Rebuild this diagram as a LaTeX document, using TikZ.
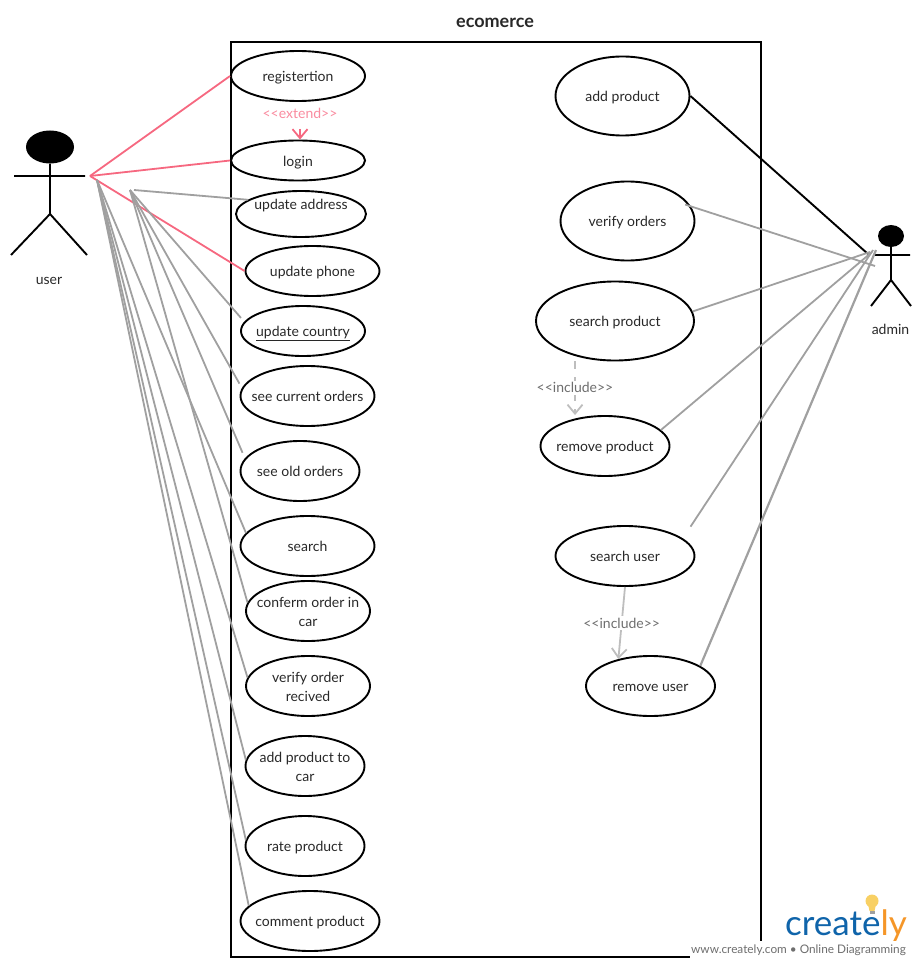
\documentclass[tikz,border=0pt]{standalone}
\usepackage{fontspec}
\setmainfont{Lato}
\usetikzlibrary{arrows.meta,shapes.geometric}
\definecolor{rose}{RGB}{246,104,128}
\definecolor{blush}{RGB}{250,140,160}
\definecolor{ash}{RGB}{160,160,160}
\definecolor{mist}{RGB}{190,190,190}
\definecolor{ink}{RGB}{40,40,40}
\definecolor{slate}{RGB}{110,110,110}
\definecolor{logoblue}{RGB}{15,100,170}
\definecolor{logoorange}{RGB}{245,150,40}
\definecolor{bulb}{RGB}{248,208,100}
\newcommand{\casetext}[1]{\makebox[0pt]{\raisebox{-5.5pt}[0pt][0pt]{\begin{tabular}{@{}c@{}}#1\end{tabular}}}}
\tikzset{
  >={Straight Barb[length=9pt,width=15pt]},
  usecase/.style={ellipse,draw=black,line width=1.9pt,inner sep=0pt,
    text=ink,font=\fontsize{14}{19}\selectfont},
  tag/.style={text=ink,font=\fontsize{14}{19}\selectfont},
  link/.style={line width=1.8pt,draw=#1},
  link/.default=ash,
  stereo/.style={fill=white,inner sep=2pt,text=#1,font=\fontsize{14}{16}\selectfont},
  stick/.style={line width=1.9pt,draw=black},
}
\begin{document}
\begin{tikzpicture}[x=1pt,y=-1pt]
    \useasboundingbox (0,0) rectangle (920,965);
    \node[font=\fontsize{18}{20}\selectfont\bfseries,text=ink] (title) at (495,23) {ecomerce};
    \node[draw=black,line width=2pt,minimum width=530pt,minimum height=915pt,inner sep=0pt] (system) at (496,499.5) {};
    % use cases
    \foreach \n/\x/\y/\w/\h/\t in {
      register/298/76/134/50/registertion,
      login/298/160.5/134/40/login,
      address/301/214/130/46/{\raisebox{10pt}[0pt][0pt]{update address}},
      phone/312.5/271/134/50/update phone,
      country/303/331/124/50/{\underline{update country}},
      current/307.5/396/134/60/see current orders,
      old/300/471/119/60/see old orders,
      search/307.5/546/134/60/search,
      confirm/308/611/124/60/{conferm order in\\car},
      verify/308/686/124/60/{verify order\\recived},
      addcar/305/766/119/60/{add product to\\car},
      rate/305/846/119/60/rate product,
      comment/310/921/139/60/comment product,
      addprod/622.5/96/134/79/add product,
      vorders/627.5/221/134/79/verify orders,
      sproduct/615/321/158/79/search product,
      rproduct/605/446/129/60/remove product,
      suser/625/556/139/60/search user,
      ruser/650.5/686/129/60/remove user}{
      \node[usecase,minimum width=\w pt,minimum height=\h pt] (\n) at (\x,\y) {\casetext{\t}};
    }
    % actors
    \node[ellipse,fill=black,minimum width=48pt,minimum height=33pt,inner sep=0pt] (userhead) at (50,147) {};
    \coordinate (userhip) at (50,214);
    \draw[stick] (userhead) -- (userhip) -- (11,255) (userhip) -- (87,255) (14,176) -- (85,176);
    \node[tag] (userlbl) at (49,281) {user};
    \node[ellipse,fill=black,minimum width=26pt,minimum height=22pt,inner sep=0pt] (adminhead) at (891,236) {};
    \coordinate (adminhip) at (891,280);
    \draw[stick] (adminhead) -- (adminhip) -- (871,306) (adminhip) -- (911,306) (875,255) -- (910,255);
    \node[tag] (adminlbl) at (890.5,329) {admin};
    \coordinate (userA) at (90,176);
    \coordinate (userB) at (97,180);
    \coordinate (userC) at (130,190);
    \coordinate (userD) at (134,190);
    % user side
    \foreach \e in {register.west,login.west,phone.west}
      \draw[link=rose] (userA) -- (\e);
    \draw[link] (userD) -- (address.165);
    \foreach \e/\s in {country.171/5pt,current.173/5pt,old.167/6pt,confirm.172/0pt}
      \draw[link,shorten >=\s] (userC) -- (\e);
    \foreach \e in {search.168,verify.172,addcar.174,rate.174,comment.166}
      \draw[link] (userB) -- (\e);
    % admin side
    \draw[line width=1.9pt] (addprod.east) -- (868,254);
    \draw[link,shorten <=-6pt] (vorders.13) -- (875,266);
    \draw[link] (sproduct.7) -- (870,252);
    \draw[link] (rproduct.16) -- (872,252);
    \draw[link,shorten <=14pt] (suser.17.5) -- (873,250);
    \draw[link,line width=2.2pt] (ruser.22) -- (876,250);
    % stereotypes
    \draw[link=rose,->,dash pattern=on 13pt off 27pt,dash phase=13pt] ([xshift=2pt]register.south) -- ([xshift=2pt]login.north)
      node[stereo=blush,pos=0.3] (extend) {<{}<extend>{}>};
    \draw[link=mist,->,dash pattern=on 8pt off 8pt] (sproduct.south -| 575,359) -- (rproduct.north -| 575,420)
      node[stereo=slate,pos=0.49] (incprod) {<{}<include>{}>};
    \draw[link=mist,->] (suser.south) -- (ruser.140)
      node[stereo=slate,pos=0.5] (incuser) {<{}<include>{}>};
    % watermark
    \node[fill=white,minimum width=230pt,minimum height=24pt,inner sep=0pt] (mark) at (805,953) {};
    \node[anchor=base east,inner sep=0pt,font=\fontsize{35}{40}\selectfont] (logo) at (907,935)
      {\textcolor{logoblue}{create}\textcolor{logoorange}{ly}};
    \node[anchor=base east,inner sep=0pt,text=slate,font=\fontsize{11.8}{14}\selectfont] (web) at (906,953)
      {www.creately.com • Online Diagramming};
    \fill[bulb] (872,901) circle (6.5pt);
    \fill[bulb] (868,904) -- (876,904) -- (874.5,911) -- (869.5,911) -- cycle;
    \fill[ash] (869.5,911) rectangle (874.5,914);
  \end{tikzpicture}
\end{document}
